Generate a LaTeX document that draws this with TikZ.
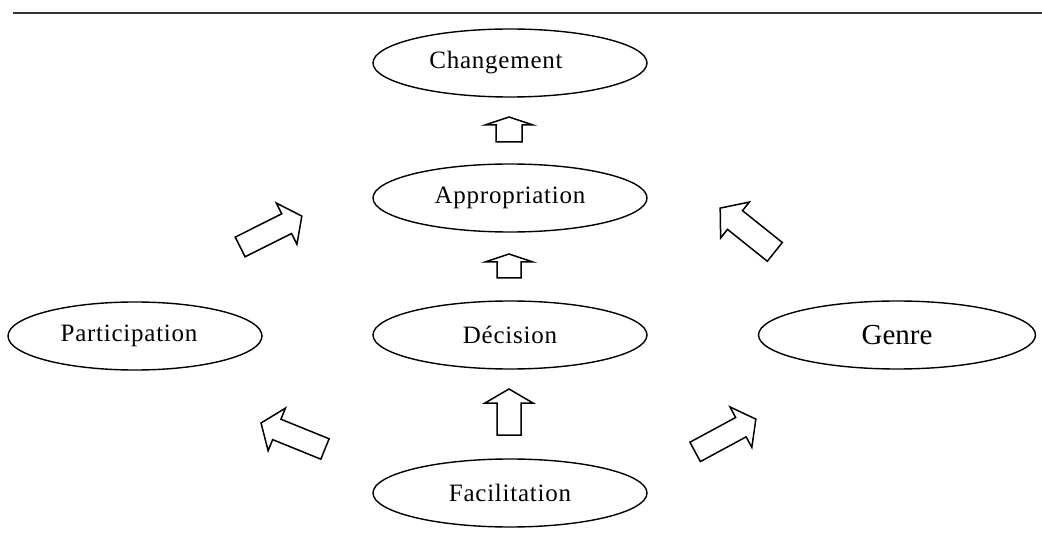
\documentclass[tikz,border=0pt]{standalone}
\usepackage{fontspec}
\setmainfont{Liberation Serif}
\usetikzlibrary{shapes.geometric}
\tikzset{
  oval/.style={ellipse, draw=black, line width=1.4pt, inner sep=0pt,
    minimum width=274pt, minimum height=68pt,
    font=\fontsize{25}{28}\selectfont\addfontfeatures{LetterSpace=3}},
  blockarr/.style={draw=black, line width=1.5pt, fill=white, line join=miter},
  rule/.style={draw=black!80, line width=2.2pt}
}
% \blockarrow{x}{y}{angle}{length}{head length}{shaft half}{head half}
\newcommand\blockarrow[7]{%
  \begin{scope}[shift={(#1,#2)}, rotate=#3]
    \draw[blockarr] (-#4/2,-#6) -- (#4/2-#5,-#6) -- (#4/2-#5,-#7) -- (#4/2,0)
      -- (#4/2-#5,#7) -- (#4/2-#5,#6) -- (-#4/2,#6) -- cycle;
  \end{scope}}
\begin{document}
\begin{tikzpicture}[x=1pt,y=-1pt]
\useasboundingbox (0,0) rectangle (1042,545);
\coordinate (rl) at (13,13);
\coordinate (rr) at (1042,13);
\draw[rule] (rl) -- (rr);

\node[oval] (chg) at (510,63) {Changement\hspace*{28pt}};
\node[oval] (app) at (510,198) {Appropriation};
\node[oval] (dec) at (510,335) {Décision};
\node[oval, minimum width=254pt] (par) at (135,336) {Participation\hspace*{12pt}};
\node[oval, minimum width=277pt, font=\fontsize{29}{32}\selectfont] (gen) at (897,335) {Genre};
\node[oval] (fac) at (510,493) {Facilitation};

% vertical arrows
\blockarrow{509}{129.5}{90}{25}{8}{13}{24}
\blockarrow{509}{266}{90}{24}{8}{12}{24}
\blockarrow{509}{412}{90}{46}{14}{12}{24}
% diagonal arrows
\blockarrow{271}{231.5}{26.6}{69}{17}{11}{23}
\blockarrow{747.5}{230}{141.3}{70}{19}{12}{23}
\blockarrow{293}{436}{157.9}{69}{17}{11}{23}
\blockarrow{725.5}{435.5}{28.4}{69}{17}{11}{23}
\end{tikzpicture}
\end{document}
